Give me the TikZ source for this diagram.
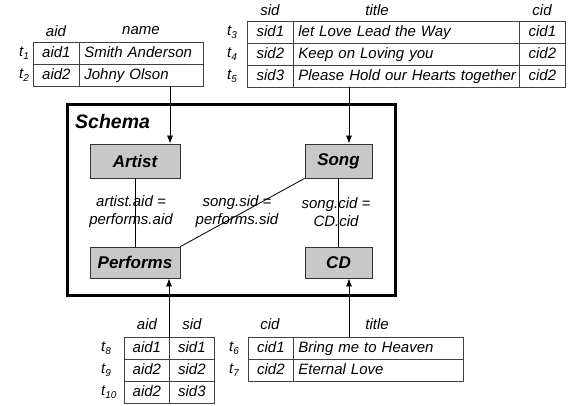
\documentclass[tikz,border=0pt]{standalone}
\usepackage{fontspec}
\setmainfont{Liberation Sans}
\usetikzlibrary{arrows.meta}
\definecolor{boxfill}{HTML}{C8C8C8}
\definecolor{boxline}{HTML}{333333}
\definecolor{tabline}{HTML}{404040}
\newcommand\cellfont{\fontsize{15}{18}\selectfont\itshape}
\newcommand\tsub[1]{t\raisebox{-3.5pt}{\fontsize{10}{10}\selectfont #1}}
\tikzset{
  cellbase/.style={draw=tabline, line width=0.8pt, inner ysep=0pt, anchor=north west,
    font=\cellfont, text height=11pt, text depth=3.5pt},
  cellC/.style={cellbase, inner xsep=0pt, minimum width=#1, minimum height=22pt, align=center},
  cellL/.style={cellbase, inner xsep=5pt, text width=#1, minimum height=22pt, align=left},
  hdr/.style={font=\cellfont, inner sep=0pt},
  tlab/.style={font=\cellfont, inner sep=0pt, anchor=west},
  entity/.style={draw=boxline, line width=0.8pt, fill=boxfill, font=\fontsize{17}{20}\selectfont\bfseries\itshape, inner sep=0pt},
  cond/.style={font=\cellfont, align=center, inner sep=0pt},
  arr/.style={line width=0.8pt, -{Latex[length=8pt,width=6pt]}},
  link/.style={line width=0.8pt},
}
\begin{document}
\begin{tikzpicture}[x=1pt,y=-1pt]
\useasboundingbox (0,0) rectangle (572,406);
% ---------- Artist table ----------
\node[hdr] (h_aid1) at (56,31) {aid};
\node[hdr] (h_name) at (141,31) {name};
\node[cellC=46pt] (a11) at (33,42) {aid1};
\node[cellL=114pt] (a12) at (79,42) {Smith Anderson};
\node[cellC=46pt] (a21) at (33,64) {aid2};
\node[cellL=114pt] (a22) at (79,64) {Johny Olson};
\node[tlab] (t1) at (19,53) {\tsub{1}};
\node[tlab] (t2) at (19,75) {\tsub{2}};
% ---------- Song table ----------
\node[hdr] (h_sid1) at (270,10) {sid};
\node[hdr] (h_title1) at (377,10) {title};
\node[hdr] (h_cid1) at (542,10) {cid};
\node[cellC=46pt] (s11) at (247,21) {sid1};
\node[cellL=216pt] (s12) at (293,21) {let Love Lead the Way};
\node[cellC=46pt] (s13) at (519,21) {cid1};
\node[cellC=46pt] (s21) at (247,43) {sid2};
\node[cellL=216pt] (s22) at (293,43) {Keep on Loving you};
\node[cellC=46pt] (s23) at (519,43) {cid2};
\node[cellC=46pt] (s31) at (247,65) {sid3};
\node[cellL=216pt] (s32) at (293,65) {\mbox{Please Hold our Hearts together}};
\node[cellC=46pt] (s33) at (519,65) {cid2};
\node[tlab] (t3) at (227,32) {\tsub{3}};
\node[tlab] (t4) at (227,54) {\tsub{4}};
\node[tlab] (t5) at (227,76) {\tsub{5}};
% ---------- Performs table ----------
\node[hdr] (h_aid2) at (147,324) {aid};
\node[hdr] (h_sid2) at (192,324) {sid};
\node[cellC=45pt] (p11) at (124,337) {aid1};
\node[cellC=45pt] (p12) at (169,337) {sid1};
\node[cellC=45pt] (p21) at (124,359) {aid2};
\node[cellC=45pt] (p22) at (169,359) {sid2};
\node[cellC=45pt] (p31) at (124,381) {aid2};
\node[cellC=45pt] (p32) at (169,381) {sid3};
\node[tlab] (t8) at (101,348) {\tsub{8}};
\node[tlab] (t9) at (101,370) {\tsub{9}};
\node[tlab] (t10) at (101,392) {\tsub{10}};
% ---------- CD table ----------
\node[hdr] (h_cid2) at (270,324) {cid};
\node[hdr] (h_title2) at (377,324) {title};
\node[cellC=45pt] (c11) at (248,337) {cid1};
\node[cellL=160pt] (c12) at (293,337) {Bring me to Heaven};
\node[cellC=45pt] (c21) at (248,359) {cid2};
\node[cellL=160pt] (c22) at (293,359) {Eternal Love};
\node[tlab] (t6) at (229,348) {\tsub{6}};
\node[tlab] (t7) at (229,370) {\tsub{7}};
% ---------- Schema ----------
\draw[line width=3pt] (67,105) rectangle (395,295);
\node[anchor=west, inner sep=0pt, font=\fontsize{19.5}{22}\selectfont\bfseries\itshape] (schema) at (75,122) {Schema};
\node[entity, minimum width=90pt, minimum height=34pt] (artist) at (135,161) {Artist};
\node[entity, minimum width=67pt, minimum height=34pt] (song) at (338.5,161) {Song};
\node[entity, minimum width=90pt, minimum height=31pt] (performs) at (135,262.5) {Performs};
\node[entity, minimum width=67pt, minimum height=31pt] (cd) at (338.5,262.5) {CD};
\draw[link] (artist) -- (performs);
\draw[link] (song) -- (cd);
\draw[link] (song.south west) -- (performs.north east);
\node[cond] (c1) at (131,212) {artist.aid =\\performs.aid};
\node[cond] (c2) at (237,212) {song.sid =\\performs.sid};
\node[cond] (c3) at (336,212) {song.cid =\\CD.cid};
% ---------- arrows ----------
\coordinate (fromA) at (170,86);
\coordinate (fromS) at (349,87);
\coordinate (fromP) at (169,337);
\coordinate (fromC) at (349,337);
\draw[arr] (fromA) -- (fromA |- artist.north);
\draw[arr] (fromS) -- (fromS |- song.north);
\draw[arr] (fromP) -- (fromP |- performs.south);
\draw[arr] (fromC) -- (fromC |- cd.south);
\end{tikzpicture}
\end{document}
